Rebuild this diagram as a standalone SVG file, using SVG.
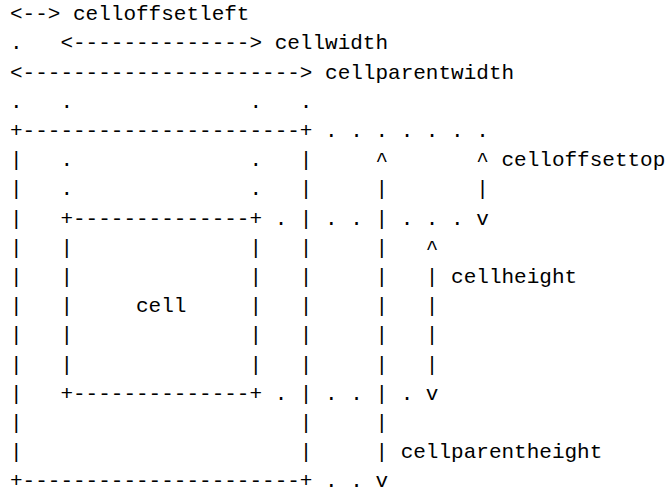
<svg xmlns="http://www.w3.org/2000/svg" width="665" height="492" viewBox="0 0 665 492">
<style>
text { font-family: "Liberation Mono", "DejaVu Sans Mono", monospace; font-size: 21px; fill: #000; white-space: pre; }
</style>
<rect width="665" height="492" fill="#fff"/>
<g id="ascii" xml:space="preserve">
<text x="10" y="20.2">&lt;--&gt; celloffsetleft</text>
<text x="10" y="49.4">.   &lt;--------------&gt; cellwidth</text>
<text x="10" y="78.6">&lt;----------------------&gt; cellparentwidth</text>
<text x="10" y="107.8">.   .              .   .</text>
<text x="10" y="137">+----------------------+ . . . . . . .</text>
<text x="10" y="166.2">|   .              .   |     ^       ^ celloffsettop</text>
<text x="10" y="195.4">|   .              .   |     |       |</text>
<text x="10" y="224.6">|   +--------------+ . | . . | . . . v</text>
<text x="10" y="253.8">|   |              |   |     |   ^</text>
<text x="10" y="283">|   |              |   |     |   | cellheight</text>
<text x="10" y="312.2">|   |     cell     |   |     |   |</text>
<text x="10" y="341.4">|   |              |   |     |   |</text>
<text x="10" y="370.6">|   |              |   |     |   |</text>
<text x="10" y="399.8">|   +--------------+ . | . . | . v</text>
<text x="10" y="429">|                      |     |</text>
<text x="10" y="458.2">|                      |     | cellparentheight</text>
<text x="10" y="487.4">+----------------------+ . . v</text>
</g>
</svg>
